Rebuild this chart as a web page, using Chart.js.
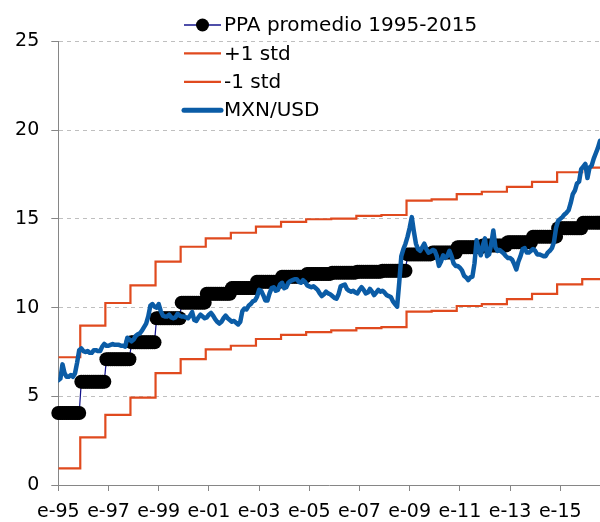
<!DOCTYPE html>
<html>
<head>
<meta charset="utf-8">
<script src="https://cdn.jsdelivr.net/npm/chart.js@4.4.1/dist/chart.umd.min.js"></script>
<style>
  html, body { margin: 0; padding: 0; background: #fff; }
  #wrap { width: 600px; height: 522px; position: relative; }
</style>
</head>
<body>
<div id="wrap"><canvas id="fxChart"></canvas></div>
<script>
// x axis: months counted from enero 1995, a label every 24 months
const xTickLabels = ['e-95','e-97','e-99','e-01','e-03','e-05','e-07','e-09','e-11','e-13','e-15'];

// yearly periods of the PPA estimate (each level runs from ~nov of the previous year)
const ppaYears = [1995,1996,1997,1998,1999,2000,2001,2002,2003,2004,2005,
                  2006,2007,2008,2009,2010,2011,2012,2013,2014,2015,2016];
const ppaLevels = [4.06,5.82,7.09,8.04,9.4,10.28,10.78,11.1,11.46,11.74,11.9,
                   11.97,12.02,12.08,13.0,13.1,13.4,13.5,13.68,14.0,14.47,14.79];
const stdUpper = [7.2,8.98,10.26,11.25,12.59,13.43,13.9,14.22,14.56,14.83,14.98,
                  15.01,15.17,15.22,16.03,16.1,16.4,16.53,16.8,17.09,17.63,17.89];
const stdLower = [0.94,2.69,3.95,4.92,6.31,7.09,7.65,7.85,8.23,8.46,8.62,
                  8.72,8.84,8.9,9.77,9.82,10.09,10.2,10.48,10.77,11.31,11.61];

// monthly MXN/USD, ene-1995 .. ago-2016
const mxnUsd = [
  5.9,6.0,6.8,6.3,6.1,6.1,6.2,6.1,6.3,6.9,7.6,7.7,
  7.55,7.5,7.55,7.45,7.45,7.6,7.6,7.55,7.55,7.8,7.95,7.85,
  7.85,7.9,7.95,7.9,7.9,7.9,7.85,7.85,7.8,8.3,8.2,8.1,
  8.2,8.4,8.5,8.55,8.7,8.9,9.1,9.5,10.1,10.2,10.05,10.0,
  10.2,9.8,9.55,9.5,9.5,9.6,9.45,9.4,9.45,9.65,9.55,9.5,
  9.5,9.45,9.4,9.55,9.75,9.3,9.25,9.45,9.6,9.5,9.4,9.45,
  9.6,9.7,9.55,9.35,9.2,9.1,9.2,9.4,9.55,9.4,9.3,9.2,
  9.25,9.15,9.05,9.2,9.8,9.95,9.9,10.1,10.2,10.35,10.4,10.6,
  11.0,10.95,10.7,10.4,10.4,10.8,11.1,11.15,10.95,11.0,11.3,11.4,
  11.1,11.15,11.4,11.5,11.55,11.6,11.6,11.45,11.4,11.55,11.45,11.25,
  11.2,11.15,11.2,11.1,11.0,10.8,10.65,10.75,10.9,10.8,10.75,10.65,
  10.55,10.5,10.75,11.2,11.25,11.3,11.05,10.95,10.9,10.95,10.85,10.8,
  11.0,11.15,11.0,10.8,10.85,11.05,10.9,10.7,10.85,11.0,10.9,10.95,
  10.85,10.7,10.65,10.6,10.35,10.2,10.05,11.4,12.9,13.3,13.6,14.0,
  14.5,15.1,14.3,13.6,13.3,13.2,13.4,13.6,13.3,13.1,13.15,13.25,
  13.2,12.9,12.35,12.6,12.95,12.8,12.9,13.2,12.9,12.5,12.35,12.35,
  12.25,12.1,11.8,11.7,11.55,11.7,11.75,12.5,13.8,13.3,12.95,13.5,
  13.9,12.9,13.0,13.6,14.35,13.4,13.2,13.25,13.15,13.05,12.9,12.8,
  12.8,12.7,12.45,12.15,12.6,12.9,13.3,13.35,13.1,13.1,13.2,13.3,
  13.2,13.0,13.0,12.95,12.9,12.9,13.1,13.2,13.35,13.7,14.5,14.9,
  15.0,15.1,15.25,15.35,15.5,15.9,16.4,16.6,17.0,17.1,17.8,17.95,
  18.1,17.3,17.9,18.0,18.4,18.7,19.0,19.4
];

const X_MAX = mxnUsd.length - 1;
const FONT = '"DejaVu Sans", sans-serif';

const levelStart = yr => Math.max(0, (yr - 1995) * 12 - 1.5);
const periodOf = m => m < 10.5 ? 0 : Math.floor((m - 10.5) / 12) + 1;

const stepPoints = levels => {
  const pts = levels.map((v, i) => ({x: levelStart(ppaYears[i]), y: v}));
  pts.push({x: X_MAX, y: levels[levels.length - 1]});
  return pts;
};

const monthIdx = mxnUsd.map((_, i) => i);

// hand drawn legend, sitting inside the plot like the excel one
const legendRows = {
  id: 'legendRows',
  afterDraw(chart) {
    const ctx = chart.ctx;
    ctx.save();
    chart.data.datasets.forEach((ds, i) => {
      const y = 25 + i * 28.4;
      ctx.strokeStyle = ds.borderColor;
      ctx.lineWidth = ds.legendWidth;
      ctx.lineCap = ds.legendWidth > 3 ? 'round' : 'butt';
      ctx.beginPath();
      ctx.moveTo(184, y);
      ctx.lineTo(221, y);
      ctx.stroke();
      if (ds.pointRadius) {
        ctx.fillStyle = ds.pointBackgroundColor;
        ctx.beginPath();
        ctx.arc(202.5, y, 6.5, 0, Math.PI * 2);
        ctx.fill();
      }
      ctx.fillStyle = '#000';
      ctx.font = '20px ' + FONT;
      ctx.textBaseline = 'middle';
      ctx.fillText(ds.label, 224, y + 1);
    });
    ctx.restore();
  }
};

const ctx = document.getElementById('fxChart');

new Chart(ctx, {
  type: 'line',
  data: {
    datasets: [{
      label: 'PPA promedio 1995-2015',
      data: monthIdx.map(m => ({x: m, y: ppaLevels[periodOf(m)]})),
      borderColor: '#14148c',
      borderWidth: 1.25,
      legendWidth: 1.5,
      pointRadius: 7,
      pointBackgroundColor: '#000',
      pointBorderColor: '#000',
      pointBorderWidth: 0,
      clip: {left: 8, top: 8, right: 0, bottom: 8},
      order: 3
    }, {
      label: '+1 std',
      data: stepPoints(stdUpper),
      stepped: true,
      borderColor: '#e04a1e',
      borderWidth: 2.2,
      legendWidth: 2.2,
      pointRadius: 0,
      order: 1
    }, {
      label: '-1 std',
      data: stepPoints(stdLower),
      stepped: true,
      borderColor: '#e04a1e',
      borderWidth: 2.2,
      legendWidth: 2.2,
      pointRadius: 0,
      order: 2
    }, {
      label: 'MXN/USD',
      data: monthIdx.map(m => ({x: m, y: mxnUsd[m]})),
      borderColor: '#0b5ca6',
      borderWidth: 4.5,
      legendWidth: 5,
      borderJoinStyle: 'round',
      borderCapStyle: 'round',
      pointRadius: 0,
      order: 0
    }]
  },
  options: {
    animation: false,
    responsive: true,
    maintainAspectRatio: false,
    devicePixelRatio: 1,
    layout: {autoPadding: false, padding: {top: 41.5, right: 0, left: 0, bottom: 0}},
    plugins: {
      legend: {display: false},
      tooltip: {enabled: false}
    },
    scales: {
      x: {
        type: 'linear',
        min: 0,
        max: X_MAX,
        afterBuildTicks: s => { s.ticks = xTickLabels.map((_, i) => ({value: i * 24})); },
        afterFit: s => { s.height = 37; s.paddingRight = 0; s.paddingLeft = 0; },
        ticks: {
          autoSkip: false,
          maxRotation: 0,
          padding: 10,
          color: '#000',
          font: {family: FONT, size: 19},
          callback: (v, i) => xTickLabels[i]
        },
        grid: {drawOnChartArea: false, tickLength: 6, color: '#868686', tickColor: '#868686'},
        border: {color: '#868686', width: 1}
      },
      y: {
        min: 0,
        max: 25,
        afterFit: s => { s.width = 58.3; },
        ticks: {
          stepSize: 5,
          padding: 12,
          color: '#000',
          font: {family: FONT, size: 19}
        },
        grid: {
          color: c => c.tick && c.tick.value === 0 ? 'rgba(0,0,0,0)' : '#bfbfbf',
          tickColor: '#868686',
          tickLength: 7,
          tickBorderDash: []
        },
        border: {color: '#868686', width: 1, dash: [4, 4]}
      }
    }
  },
  plugins: [legendRows]
});
</script>
</body>
</html>
